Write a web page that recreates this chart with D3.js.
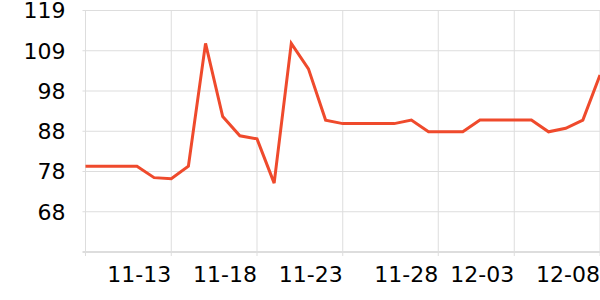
<!DOCTYPE html>
<meta charset="utf-8">
<script src="https://d3js.org/d3.v7.min.js"></script>
<style>
  body { margin: 0; background: #fff; }
  text { font-family: "DejaVu Sans", sans-serif; }
</style>
<div id="chart"></div>
<script>
    // data
    var dates = ["11-08","11-09","11-10","11-11","11-12","11-13","11-14","11-15","11-16","11-17",
                 "11-18","11-19","11-20","11-21","11-22","11-23","11-24","11-25","11-26","11-27",
                 "11-28","11-29","11-30","12-01","12-02","12-03","12-04","12-05","12-06","12-07","12-08"]
    var values = [79.2, 79.2, 79.2, 79.2, 76.3, 76.0, 79.2, 110.6, 91.9, 87.0,
                  86.2, 74.9, 110.6, 104.1, 91.0, 90.1, 90.1, 90.1, 90.1, 91.0,
                  88.0, 88.0, 88.0, 91.0, 91.0, 91.0, 91.0, 88.0, 88.9, 91.0, 102.5]
    var xTickLabels = ["11-13", "11-18", "11-23", "11-28", "12-03", "12-08"]
    var xTickIndex = [5, 10, 15, 20.57, 25, 30]
    var yTickLabels = ["68", "78", "88", "98", "109", "119"]
    var yMin = 57.3, yMax = 119

    var margin = {top: 10.5, right: 0, bottom: 48, left: 85.5},
        width = 600 - margin.left - margin.right,
        height = 300 - margin.top - margin.bottom;

    var svg = d3.select("#chart")
      .append("svg")
        .attr("width", 600)
        .attr("height", 300)
      .append("g")
        .attr("transform", "translate(" + margin.left + "," + margin.top + ")");

    var x = d3.scaleLinear()
      .domain([0, dates.length - 1])
      .range([0, width]);

    var y = d3.scaleLinear()
      .domain([yMin, yMax])
      .range([height, 0]);

    var step = (yMax - yMin) / 6
    var yTicks = d3.range(7).map(function(i) { return yMin + i * step })

    // horizontal grid
    svg.selectAll(".hgrid")
      .data(yTicks)
      .enter()
      .append("line")
        .attr("x1", -3)
        .attr("x2", width)
        .attr("y1", function(d) { return y(d) })
        .attr("y2", function(d) { return y(d) })
        .attr("stroke", function(d, i) { return i == 0 ? "#bbb" : "#ddd" })
        .attr("stroke-width", 1)

    // vertical grid
    svg.selectAll(".vgrid")
      .data([0].concat(xTickIndex))
      .enter()
      .append("line")
        .attr("x1", function(d) { return x(d) })
        .attr("x2", function(d) { return x(d) })
        .attr("y1", 0)
        .attr("y2", height + 4)
        .attr("stroke", "#ddd")
        .attr("stroke-width", 1)

    // y labels
    svg.selectAll(".ylab")
      .data(yTicks.slice(1))
      .enter()
      .append("text")
        .attr("x", -20)
        .attr("y", function(d) { return y(d) })
        .attr("dy", "0.36em")
        .attr("text-anchor", "end")
        .attr("font-size", "22px")
        .attr("fill", "#000")
        .text(function(d, i) { return yTickLabels[i] })

    // x labels
    svg.selectAll(".xlab")
      .data(xTickIndex)
      .enter()
      .append("text")
        .attr("x", function(d) { return x(d) })
        .attr("y", height + 30)
        .attr("text-anchor", "end")
        .attr("font-size", "22px")
        .attr("fill", "#000")
        .text(function(d, i) { return xTickLabels[i] })

    var line = d3.line()
      .x(function(d, i) { return x(i) })
      .y(function(d) { return y(d) })

    svg.append("path")
      .datum(values)
      .attr("fill", "none")
      .attr("stroke", "#ef4a2c")
      .attr("stroke-width", 3)
      .attr("stroke-linejoin", "miter")
      .attr("d", line)
</script>
